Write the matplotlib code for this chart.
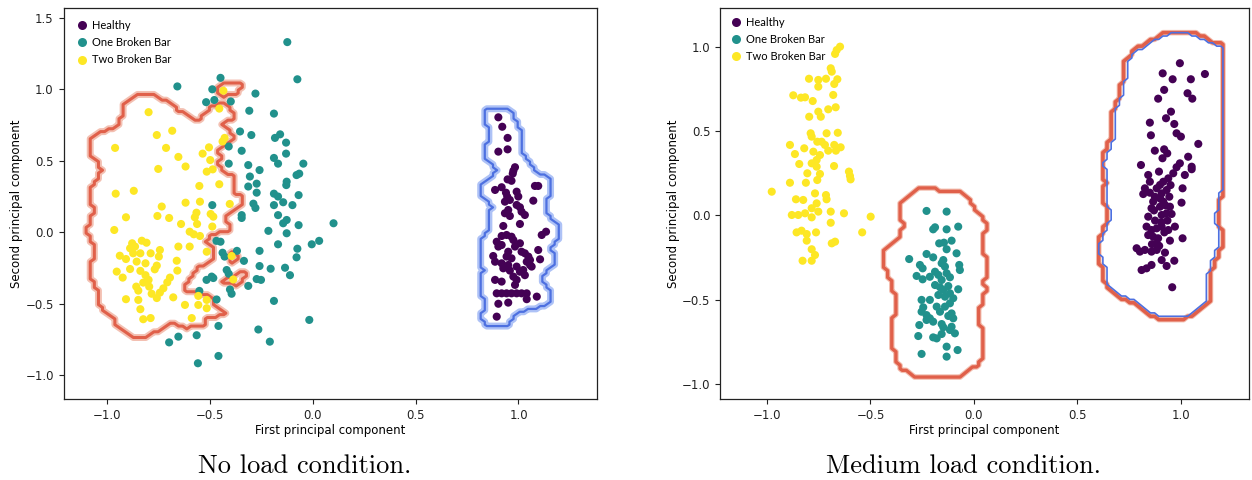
import numpy as np
import matplotlib
matplotlib.use("Agg")
import matplotlib.pyplot as plt
from matplotlib.lines import Line2D

# ---------------- data: No load condition ----------------
noload_healthy_x = [0.902, 0.921, 0.947, 0.902, 0.947, 0.983, 0.975, 0.972, 0.947, 0.966, 0.886, 0.918, 0.939, 0.945,
                    1.08, 1.096, 0.991, 0.999, 1.072, 0.934, 0.958, 0.991, 1.007, 1.015, 1.031, 0.934, 0.95, 0.958,
                    1.007, 0.926, 1.113, 1.134, 0.918, 0.942, 0.966, 0.894, 0.902, 0.918, 0.975, 0.983, 1.007, 1.015,
                    0.95, 0.942, 0.966, 1.031, 1.048, 1.04, 1.056, 1.096, 1.105, 0.877, 0.886, 0.918, 0.926, 0.95,
                    0.958, 0.991, 1.007, 1.023, 1.031, 1.056, 1.064, 0.975, 0.991, 0.886, 0.918, 0.983, 0.894, 0.918,
                    0.942, 0.966, 0.991, 1.015, 1.04, 1.089, 1.04, 0.95, 0.902, 0.894]
noload_healthy_y = [0.804, 0.738, 0.66, 0.564, 0.58, 0.455, 0.43, 0.41, 0.37, 0.36, 0.296, 0.315, 0.277, 0.25,
                    0.324, 0.324, 0.284, 0.25, 0.221, 0.214, 0.226, 0.191, 0.175, 0.144, 0.121, 0.133, 0.156, 0.114,
                    0.058, 0.044, -0.019, 0.004, -0.026, -0.019, -0.031, -0.066, -0.10, -0.089, -0.054, -0.10, -0.077,
                    -0.136, -0.136, -0.17, -0.182, -0.147, -0.17, -0.206, -0.229, -0.124, -0.189, -0.166, -0.206,
                    -0.217, -0.252, -0.229, -0.268, -0.24, -0.276, -0.264, -0.30, -0.194, -0.24, -0.31, -0.333, -0.333,
                    -0.345, -0.368, -0.427, -0.427, -0.427, -0.427, -0.427, -0.427, -0.427, -0.45, -0.468, -0.492,
                    -0.50, -0.59]

noload_one_x = [-0.125, -0.076, -0.66, -0.45, -0.49, -0.28, -0.52, -0.48, -0.40, -0.31, -0.19, -0.355, -0.30, -0.41,
                -0.347, -0.185, -0.16, -0.131, -0.131, -0.19, -0.17, -0.41, -0.315, -0.26, -0.047, -0.08, -0.067,
                -0.307, -0.274, -0.128, -0.13, -0.315, -0.274, -0.19, -0.17, -0.07, -0.29, -0.19, -0.145, -0.10,
                -0.49, -0.347, -0.347, -0.28, -0.17, -0.145, -0.128, -0.07, 0.10, -0.217, -0.128, -0.47, -0.45,
                -0.17, -0.006, 0.03, -0.26, -0.076, -0.08, -0.44, -0.43, -0.37, -0.336, -0.26, -0.206, -0.136,
                -0.112, -0.42, -0.41, -0.518, -0.493, -0.485, -0.274, -0.253, -0.315, -0.404, -0.396, -0.553, -0.469,
                -0.19, -0.018, -0.46, -0.266, -0.566, -0.655, -0.70, -0.21, -0.46, -0.56]
noload_one_y = [1.33, 1.07, 1.02, 1.08, 1.0, 0.97, 0.91, 0.925, 0.915, 0.85, 0.83, 0.705, 0.68, 0.60, 0.57, 0.66,
                0.685, 0.627, 0.55, 0.52, 0.48, 0.48, 0.47, 0.435, 0.48, 0.40, 0.41, 0.39, 0.34, 0.354, 0.33, 0.32,
                0.277, 0.27, 0.25, 0.26, 0.20, 0.19, 0.21, 0.19, 0.19, 0.12, 0.10, 0.17, 0.12, 0.063, 0.086, 0.05,
                0.063, 0.01, -0.007, -0.06, -0.066, -0.084, -0.084, -0.06, -0.13, -0.115, -0.175, -0.143, -0.17,
                -0.13, -0.20, -0.236, -0.255, -0.248, -0.30, -0.264, -0.29, -0.333, -0.31, -0.32, -0.327, -0.333,
                -0.375, -0.40, -0.43, -0.41, -0.47, -0.48, -0.613, -0.655, -0.68, -0.72, -0.73, -0.77, -0.765,
                -0.865, -0.916]

noload_two_x = [-0.436, -0.456, -0.80, -0.685, -0.76, -0.43, -0.44, -0.963, -0.715, -0.506, -0.537, -0.50, -0.655,
                -0.62, -0.753, -0.517, -0.488, -0.553, -0.456, -0.96, -0.872, -0.736, -0.62, -0.55, -0.405, -0.91,
                -0.757, -0.70, -0.567, -0.575, -0.564, -0.498, -0.485, -0.642, -0.967, -0.60, -0.58, -0.55, -0.88,
                -0.833, -0.81, -0.655, -0.60, -0.94, -0.91, -0.875, -0.84, -0.79, -0.745, -0.89, -0.866, -0.75,
                -0.815, -0.858, -0.663, -0.89, -0.76, -0.77, -0.955, -0.84, -0.815, -0.66, -0.926, -0.696, -0.709,
                -0.80, -0.826, -0.86, -0.85, -0.797, -0.785, -0.728, -0.745, -0.91, -0.85, -0.76, -0.68, -0.84,
                -0.826, -0.79, -0.623, -0.558, -0.517, -0.558, -0.517, -0.59, -0.517, -0.396, -0.388, -0.49]
noload_two_y = [0.99, 0.865, 0.84, 0.71, 0.68, 0.66, 0.635, 0.59, 0.59, 0.594, 0.55, 0.505, 0.527, 0.46, 0.443,
                0.424, 0.44, 0.324, 0.336, 0.27, 0.29, 0.18, 0.207, 0.214, 0.198, 0.105, 0.114, 0.10, 0.137, 0.105,
                0.058, 0.128, 0.109, 0.058, 0.016, 0.004, -0.014, -0.026, -0.077, -0.059, -0.073, -0.10, -0.10,
                -0.164, -0.187, -0.147, -0.147, -0.147, -0.124, -0.112, -0.10, -0.17, -0.217, -0.205, -0.199,
                -0.257, -0.233, -0.259, -0.275, -0.27, -0.30, -0.268, -0.317, -0.317, -0.35, -0.333, -0.352, -0.38,
                -0.408, -0.38, -0.43, -0.392, -0.422, -0.468, -0.473, -0.46, -0.455, -0.538, -0.608, -0.60,
                -0.508, -0.445, -0.473, -0.508, -0.531, -0.60, -0.136, -0.166, -0.33, 0.04]

# ---------------- data: Medium load condition ----------------
medium_healthy_x = [0.995, 0.912, 1.116, 0.96, 1.048, 0.919, 0.89, 1.032, 1.055, 0.952, 0.928, 0.85, 0.968, 0.979,
                    1.0, 0.855, 1.084, 0.874, 0.919, 0.934, 0.911, 1.035, 0.995, 0.979, 1.052, 1.052, 0.807, 0.894,
                    0.842, 0.85, 0.963, 0.939, 0.915, 0.899, 0.883, 1.019, 1.008, 0.826, 0.818, 0.85, 0.874, 0.866,
                    0.907, 0.931, 0.944, 0.915, 1.003, 0.858, 0.899, 0.947, 0.931, 0.842, 0.907, 0.955, 0.834, 0.858,
                    0.883, 0.907, 0.939, 0.971, 0.842, 0.866, 0.89, 0.883, 0.947, 1.008, 0.786, 0.802, 0.826, 0.858,
                    0.883, 0.923, 0.907, 0.931, 0.968, 0.81, 0.834, 0.858, 0.958,
                    0.87, 0.90, 0.925, 0.95, 0.875, 0.905, 0.935, 0.86, 0.895, 0.92]
medium_healthy_y = [0.902, 0.842, 0.838, 0.807, 0.807, 0.744, 0.692, 0.724, 0.692, 0.615, 0.576, 0.55, 0.542,
                    0.487, 0.467, 0.475, 0.424, 0.384, 0.392, 0.368, 0.339, 0.348, 0.309, 0.286, 0.289, 0.274,
                    0.299, 0.26, 0.24, 0.20, 0.25, 0.22, 0.20, 0.181, 0.161, 0.24, 0.161, 0.161, 0.127, 0.135,
                    0.111, 0.082, 0.131, 0.151, 0.111, 0.082, 0.076, 0.043, 0.052, 0.052, 0.013, -0.007, 0.003,
                    0.009, -0.066, -0.086, -0.076, -0.066, -0.086, -0.066, -0.116, -0.126, -0.135, -0.165, -0.149,
                    -0.135, -0.194, -0.214, -0.204, -0.214, -0.204, -0.22, -0.264, -0.299, -0.268, -0.323, -0.313,
                    -0.293, -0.425,
                    0.03, 0.10, 0.06, 0.18, -0.03, -0.04, -0.03, -0.17, -0.18, -0.10]

medium_one_x = [-0.229, -0.132, -0.188, -0.197, -0.132, -0.076, -0.168, -0.145, -0.108, -0.132, -0.084, -0.313,
                -0.229, -0.197, -0.148, -0.156, -0.14, -0.261, -0.248, -0.071, -0.068, -0.277, -0.248, -0.213,
                -0.188, -0.172, -0.156, -0.132, -0.116, -0.188, -0.164, -0.148, -0.124, -0.076, -0.172, -0.14,
                -0.116, -0.10, -0.253, -0.213, -0.245, -0.253, -0.229, -0.18, -0.164, -0.14, -0.116, -0.108, -0.10,
                -0.124, -0.213, -0.197, -0.229, -0.264, -0.156, -0.148, -0.116, -0.092, -0.108, -0.269, -0.197,
                -0.18, -0.156, -0.132, -0.079, -0.253, -0.132]
medium_one_y = [0.027, 0.023, -0.07, -0.082, -0.082, -0.066, -0.165, -0.161, -0.149, -0.20, -0.224, -0.258,
                -0.228, -0.248, -0.264, -0.283, -0.303, -0.293, -0.313, -0.293, -0.323, -0.358, -0.378, -0.363,
                -0.333, -0.352, -0.382, -0.342, -0.366, -0.412, -0.425, -0.441, -0.418, -0.437, -0.471, -0.481,
                -0.461, -0.49, -0.50, -0.50, -0.544, -0.57, -0.59, -0.54, -0.57, -0.54, -0.52, -0.58, -0.609,
                -0.595, -0.609, -0.629, -0.619, -0.649, -0.643, -0.662, -0.678, -0.698, -0.659, -0.714, -0.722,
                -0.728, -0.702, -0.777, -0.797, -0.82, -0.836]

medium_two_x = [-0.647, -0.663, -0.671, -0.692, -0.687, -0.797, -0.752, -0.715, -0.66, -0.752, -0.675, -0.873,
                -0.836, -0.816, -0.779, -0.68, -0.796, -0.752, -0.74, -0.704, -0.668, -0.789, -0.784, -0.712,
                -0.658, -0.757, -0.736, -0.72, -0.889, -0.865, -0.82, -0.776, -0.744, -0.704, -0.675, -0.644,
                -0.667, -0.844, -0.784, -0.76, -0.76, -0.676, -0.805, -0.744, -0.812, -0.757, -0.604, -0.599,
                -0.596, -0.889, -0.977, -0.86, -0.825, -0.768, -0.715, -0.712, -0.76, -0.784, -0.752, -0.88,
                -0.849, -0.816, -0.784, -0.692, -0.628, -0.499, -0.692, -0.857, -0.833, -0.808, -0.763, -0.54,
                -0.808, -0.687, -0.671, -0.784, -0.768, -0.828, -0.784]
medium_two_y = [1.0, 0.98, 0.957, 0.872, 0.852, 0.81, 0.803, 0.81, 0.807, 0.763, 0.779, 0.712, 0.698, 0.70,
                0.678, 0.714, 0.585, 0.615, 0.585, 0.629, 0.641, 0.487, 0.467, 0.487, 0.49, 0.437, 0.437, 0.418,
                0.418, 0.364, 0.398, 0.378, 0.358, 0.384, 0.418, 0.404, 0.384, 0.305, 0.309, 0.329, 0.289, 0.293,
                0.25, 0.246, 0.194, 0.21, 0.26, 0.234, 0.214, 0.194, 0.141, 0.096, 0.092, 0.131, 0.121, 0.096,
                0.072, 0.043, 0.023, 0.003, 0.003, 0.013, -0.011, 0.023, 0.013, -0.007, -0.043, -0.10, -0.09,
                -0.11, -0.10, -0.10, -0.149, -0.165, -0.155, -0.20, -0.234, -0.268, -0.268]

class_labels = ["Healthy", "One Broken Bar", "Two Broken Bar"]
captions = ["No load condition.", "Medium load condition."]
xlabel = "First principal component"
ylabel = "Second principal component"

colors = ["#440154", "#21918c", "#fde725"]
RED, RED_L = "#e0604a", "#f3c0b2"
BLUE, BLUE_L = "#4d70e0", "#aec2f6"
STEP = 0.02


def nearest_dist(X, Y, px, py):
    px, py = np.asarray(px), np.asarray(py)
    return np.min(np.hypot(X[..., None] - px, Y[..., None] - py), axis=-1)


def erode(mask, rad):
    k = int(round(rad / STEP))
    if k <= 0:
        return mask
    H, W = mask.shape
    P = np.pad(mask, k, constant_values=False)
    out = np.ones_like(mask)
    for di in range(-k, k + 1):
        for dj in range(-k, k + 1):
            if di * di + dj * dj <= k * k:
                out &= P[k + di:k + di + H, k + dj:k + dj + W]
    return out


def fill_holes(mask):
    outside = ~mask
    reach = np.zeros_like(mask)
    reach[0, :] = outside[0, :]
    reach[-1, :] = outside[-1, :]
    reach[:, 0] = outside[:, 0]
    reach[:, -1] = outside[:, -1]
    while True:
        grown = reach.copy()
        grown[1:, :] |= reach[:-1, :]
        grown[:-1, :] |= reach[1:, :]
        grown[:, 1:] |= reach[:, :-1]
        grown[:, :-1] |= reach[:, 1:]
        grown &= outside
        if (grown == reach).all():
            break
        reach = grown
    return ~reach


def envelope(X, Y, px, py, r, s):
    """Closing of the union of discs of radius r around the points."""
    return erode(nearest_dist(X, Y, px, py) < r + s, s)


def draw_boundary(ax, X, Y, M, dark, light, lw, halo):
    F = M.astype(float)
    if halo:
        ax.contour(X, Y, F, levels=[0.5], colors=[light], linewidths=halo, zorder=1)
    ax.contour(X, Y, F, levels=[0.5], colors=[dark], linewidths=lw, zorder=1.5)


fig = plt.figure(figsize=(12.52, 4.8), dpi=100)
ax1 = fig.add_axes([63.5 / 1252, 81 / 480, 533.5 / 1252, 391.5 / 480])
ax2 = fig.add_axes([720 / 1252, 81 / 480, 529 / 1252, 391.5 / 480])

panels = [
    (ax1, (noload_healthy_x, noload_healthy_y), (noload_one_x, noload_one_y), (noload_two_x, noload_two_y),
     (-1.214, 1.382), (-1.166, 1.572), (4.5 / 533.5, 1 - 5 / 391.5)),
    (ax2, (medium_healthy_x, medium_healthy_y), (medium_one_x, medium_one_y), (medium_two_x, medium_two_y),
     (-1.227, 1.329), (-1.087, 1.232), (1.5 / 529, 1 - 1.7 / 391.5)),
]

for i, (ax, h, o, t, xl, yl, lpos) in enumerate(panels):
    gx = np.arange(xl[0], xl[1], STEP)
    gy = np.arange(yl[0], yl[1], STEP)
    X, Y = np.meshgrid(gx, gy)
    if i == 0:
        env = envelope(X, Y, t[0], t[1], 0.13, 0.10)
        win = nearest_dist(X, Y, t[0], t[1]) < nearest_dist(X, Y, o[0], o[1])
        M = fill_holes(env & win)
        draw_boundary(ax, X, Y, M, RED, RED_L, 2.2, 5.0)
        M = envelope(X, Y, h[0], h[1], 0.07, 0.08)
        draw_boundary(ax, X, Y, M, BLUE, BLUE_L, 1.6, 5.0)
    else:
        M = envelope(X, Y, o[0], o[1], 0.13, 0.10)
        draw_boundary(ax, X, Y, M, RED, RED_L, 2.4, 4.0)
        M = envelope(X, Y, h[0], h[1], 0.19, 0.12)
        draw_boundary(ax, X, Y, M, RED, RED_L, 2.6, 4.0)
        M = envelope(X, Y, h[0], h[1], 0.175, 0.12)
        draw_boundary(ax, X, Y, M, BLUE, BLUE_L, 1.2, 0)

    for (xs, ys), c in zip([h, o, t], colors):
        ax.scatter(xs, ys, s=34, color=c, edgecolors="none", zorder=3)

    ax.set_xlim(*xl)
    ax.set_ylim(*yl)
    ax.set_xticks([-1.0, -0.5, 0.0, 0.5, 1.0])
    if i == 0:
        ax.set_yticks([-1.0, -0.5, 0.0, 0.5, 1.0, 1.5])
    else:
        ax.set_yticks([-1.0, -0.5, 0.0, 0.5, 1.0])
    ax.tick_params(labelsize=8.5, length=3.5, width=0.8, colors="#222222")
    for sp in ax.spines.values():
        sp.set_linewidth(0.9)
        sp.set_color("#222222")
    ax.set_xlabel(xlabel, fontsize=8.5, labelpad=1.5)
    ax.set_ylabel(ylabel, fontsize=8.5, labelpad=1.5)

    handles = [Line2D([], [], marker="o", linestyle="none", markersize=6.5, markerfacecolor=c,
                      markeredgecolor="none") for c in colors]
    ax.legend(handles, class_labels, loc="upper left", bbox_to_anchor=lpos, frameon=False,
              prop={"family": "Lato", "size": 8}, handletextpad=0.3, borderaxespad=0.3,
              labelspacing=0.55, handlelength=1.2)

fig.text(305 / 1252, 14 / 480, captions[0], ha="center", va="center", fontsize=19, family="cmr10")
fig.text(963 / 1252, 14 / 480, captions[1], ha="center", va="center", fontsize=19, family="cmr10")

fig.savefig("out.png", dpi=100)
